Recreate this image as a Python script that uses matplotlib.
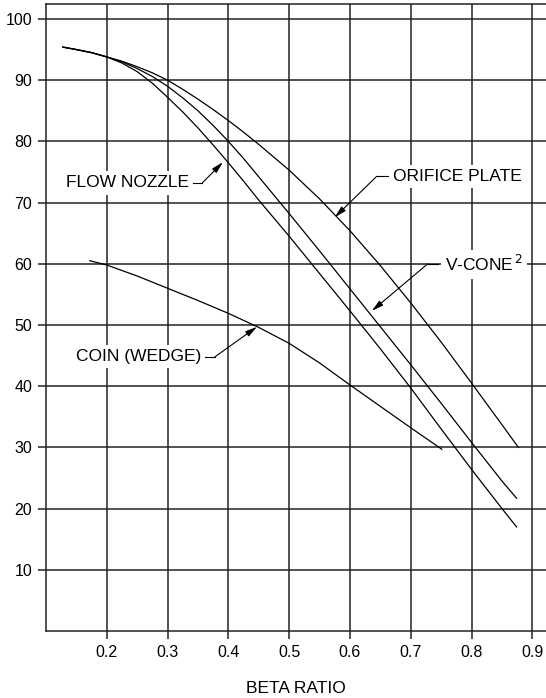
import matplotlib
matplotlib.use("Agg")
import matplotlib.pyplot as plt

plt.rcParams['font.family'] = ['Liberation Sans', 'DejaVu Sans']

# curves vs beta ratio
beta = [0.128, 0.15, 0.175, 0.2, 0.225, 0.25, 0.275, 0.3, 0.325, 0.35, 0.375, 0.4,
        0.425, 0.45, 0.5, 0.55, 0.6, 0.65, 0.7, 0.75, 0.8, 0.85]

orifice = [95.4, 95.0, 94.5, 93.8, 93.1, 92.2, 91.2, 90.0, 88.5, 86.9, 85.2, 83.4,
           81.5, 79.5, 75.3, 70.6, 65.4, 59.7, 53.6, 47.2, 40.5, 33.7]
orifice_end = (0.877, 30.0)

vcone = [95.4, 95.0, 94.5, 93.8, 93.0, 91.9, 90.6, 89.0, 87.1, 85.0, 82.6, 80.0,
         77.2, 74.2, 68.2, 62.1, 55.9, 49.7, 43.5, 37.2, 30.8, 24.5]
vcone_end = (0.874, 21.7)

nozzle = [95.4, 95.0, 94.5, 93.8, 92.8, 91.4, 89.5, 87.2, 84.8, 82.2, 79.4, 76.5,
          73.5, 70.4, 64.5, 58.4, 52.3, 46.1, 39.7, 33.0, 26.4, 20.0]
nozzle_end = (0.874, 17.0)

coin_beta = [0.172, 0.2, 0.25, 0.3, 0.35, 0.4, 0.45, 0.5, 0.55, 0.6, 0.65, 0.7, 0.751]
coin = [60.5, 59.8, 58.0, 56.0, 54.0, 51.9, 49.6, 47.0, 43.8, 40.2, 36.7, 33.2, 29.7]

xticks = [0.2, 0.3, 0.4, 0.5, 0.6, 0.7, 0.8, 0.9]
yticks = [10, 20, 30, 40, 50, 60, 70, 80, 90, 100]

fig = plt.figure(figsize=(5.46, 6.98), dpi=100)
ax = fig.add_axes([0.0842, 0.096, 0.9158, 0.8983])

ax.set_xlim(0.1, 0.9224)
ax.set_ylim(0, 102.45)
ax.set_xticks(xticks)
ax.set_xticklabels([f"{t:.1f}" for t in xticks])
ax.set_yticks(yticks)
ax.grid(True, color='#222222', lw=1.1)
ax.set_axisbelow(True)
ax.tick_params(length=6, width=1.1, color='#222222', labelsize=11.5, pad=4)
ax.tick_params(axis='x', pad=4)
for s in ['left', 'bottom', 'top']:
    ax.spines[s].set_linewidth(1.1)
    ax.spines[s].set_color('#222222')
ax.spines['right'].set_visible(False)
ax.set_xlabel('BETA RATIO', fontsize=12.5, labelpad=15)

lk = dict(color='black', lw=0.9)
ax.plot(beta + [orifice_end[0]], orifice + [orifice_end[1]], **lk)
ax.plot(beta + [vcone_end[0]], vcone + [vcone_end[1]], **lk)
ax.plot(beta + [nozzle_end[0]], nozzle + [nozzle_end[1]], **lk)
ax.plot(coin_beta, coin, **lk)

# labels with leader lines: text position, dash start, corner, arrow tip
labels = [
    ('FLOW NOZZLE', (0.133, 73.2), (0.342, 73.2), (0.357, 73.2), (0.391, 76.6)),
    ('ORIFICE PLATE', (0.671, 74.3), (0.662, 74.3), (0.644, 74.3), (0.575, 67.6)),
    ('V-CONE$^{\\,2}$', (0.756, 59.9), (0.745, 60.0), (0.728, 60.0), (0.636, 52.3)),
    ('COIN (WEDGE)', (0.149, 44.8), (0.362, 44.8), (0.378, 44.8), (0.447, 49.7)),
]
bb = dict(facecolor='white', edgecolor='none', pad=3)
for txt, tpos, d0, d1, tip in labels:
    ax.text(tpos[0], tpos[1], txt, fontsize=12.5, ha='left', va='center', bbox=bb, zorder=3)
    ax.plot([d0[0], d1[0]], [d0[1], d1[1]], color='black', lw=0.8, zorder=4)
    ax.annotate('', xy=tip, xytext=d1,
                arrowprops=dict(arrowstyle='-|>,head_length=0.7,head_width=0.18',
                                color='black', lw=0.8, shrinkA=0, shrinkB=0),
                zorder=4)

fig.savefig('out.png', dpi=100)
